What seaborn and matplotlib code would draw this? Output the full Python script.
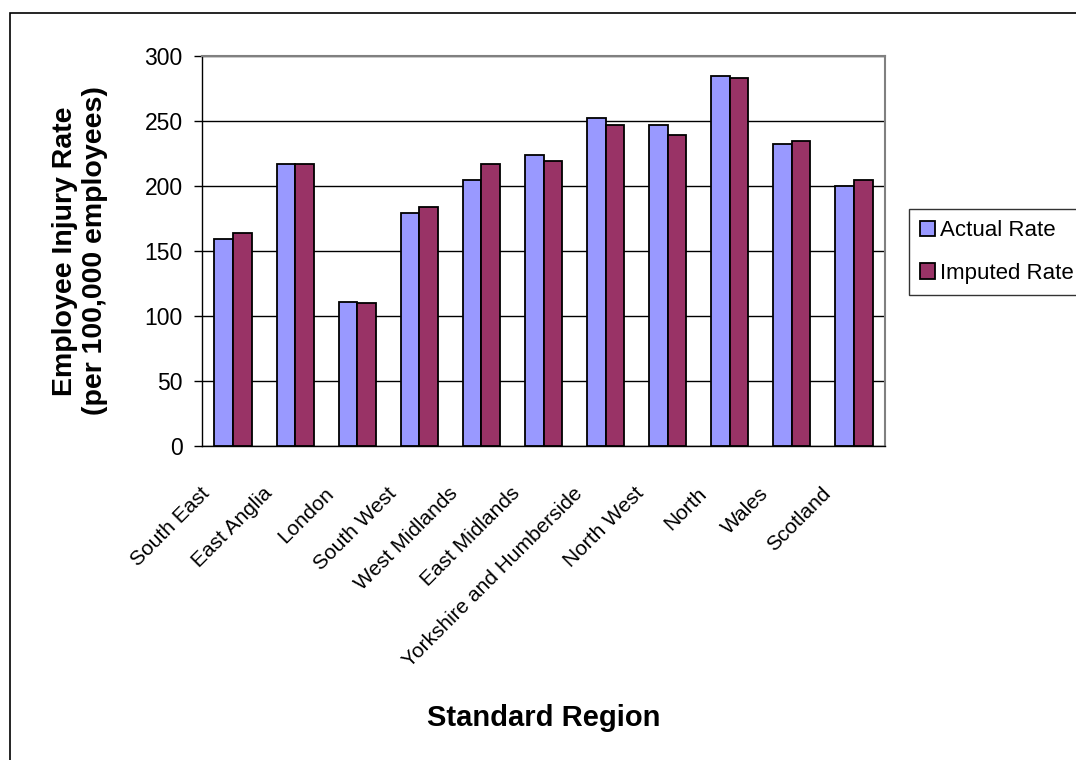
import matplotlib
matplotlib.use("Agg")
import matplotlib.pyplot as plt
import seaborn as sns
import pandas as pd
import numpy as np
from matplotlib.patches import Rectangle
from matplotlib.transforms import ScaledTranslation

regions = ["South East", "East Anglia", "London", "South West", "West Midlands",
           "East Midlands", "Yorkshire and Humberside", "North West", "North",
           "Wales", "Scotland"]
actual_rate = [159, 217, 111, 179, 205, 224, 252, 247, 285, 232, 200]
imputed_rate = [164, 217, 110, 184, 217, 219, 247, 239, 283, 235, 205]
series = ["Actual Rate", "Imputed Rate"]
y_ticks = [0, 50, 100, 150, 200, 250, 300]

df = pd.DataFrame({
    "region": regions * 2,
    "rate": actual_rate + imputed_rate,
    "series": [series[0]] * len(regions) + [series[1]] * len(regions),
})

sns.set_style("white")
plt.rcParams['font.family'] = ['Liberation Sans', 'DejaVu Sans']
for key in ["text.color", "axes.labelcolor", "xtick.color", "ytick.color"]:
    plt.rcParams[key] = "black"

fig = plt.figure(figsize=(10.76, 7.6), dpi=100)
ax = fig.add_axes([202 / 1076, 1 - 446 / 760, 683 / 1076, 390 / 760])

sns.barplot(data=df, x="region", y="rate", hue="series", order=regions,
            hue_order=series, palette=["#9999FF", "#993366"], width=0.6,
            edgecolor="black", linewidth=1.3, saturation=1, ax=ax, zorder=3)

ax.set_ylim(0, 300)
ax.set_xlim(-0.5, len(regions) - 0.5)
ax.set_yticks(y_ticks)
ax.set_yticklabels([str(v) for v in y_ticks], fontsize=16.5)
ax.yaxis.grid(True, color="black", linewidth=1, zorder=0)
ax.set_axisbelow(True)

# category labels at centres, tick marks between categories
ax.set_xticks(np.arange(len(regions)))
ax.set_xticks(np.arange(-0.5, len(regions)), minor=True)
ax.tick_params(axis="x", which="major", length=0, pad=10)
ax.tick_params(axis="x", which="minor", length=6, width=1, color="black", direction="out")
ax.tick_params(axis="y", length=6, width=1, color="black", direction="out", left=True, pad=8)
ax.set_xticklabels(regions, rotation=45, ha="right", rotation_mode="anchor", fontsize=15)
for lbl in ax.get_xticklabels():
    lbl.set_transform(lbl.get_transform() + ScaledTranslation(-0.33, -0.24, fig.dpi_scale_trans))

for side in ["top", "right"]:
    ax.spines[side].set_color("#808080")
    ax.spines[side].set_linewidth(1.5)
    ax.spines[side].set_visible(True)
for side in ["left", "bottom"]:
    ax.spines[side].set_color("black")
    ax.spines[side].set_linewidth(1)
    ax.spines[side].set_visible(True)

ax.set_xlabel("Standard Region", fontsize=21, fontweight="bold", labelpad=0)
ax.xaxis.set_label_coords(0.5, -0.662)
ax.set_ylabel("Employee Injury Rate\n(per 100,000 employees)", fontsize=20.5,
              fontweight="bold", linespacing=1.2)
ax.yaxis.set_label_coords(-0.137, 0.5)

leg = ax.legend(loc="upper left", bbox_to_anchor=(909 / 1076, 1 - 209 / 760),
                bbox_transform=fig.transFigure, fontsize=16, frameon=True,
                fancybox=False, edgecolor="black", handlelength=0.68,
                handleheight=0.68, handletextpad=0.2, borderpad=0.5,
                labelspacing=0.97, borderaxespad=0)
leg.get_frame().set_linewidth(1)

# outer chart frame
fig.patches.append(Rectangle((9.5 / 1076, -0.1), 1.2, 1 - 12.7 / 760 + 0.1,
                             transform=fig.transFigure, fill=False,
                             edgecolor="black", linewidth=1.2))

fig.savefig("out.png", dpi=100)
